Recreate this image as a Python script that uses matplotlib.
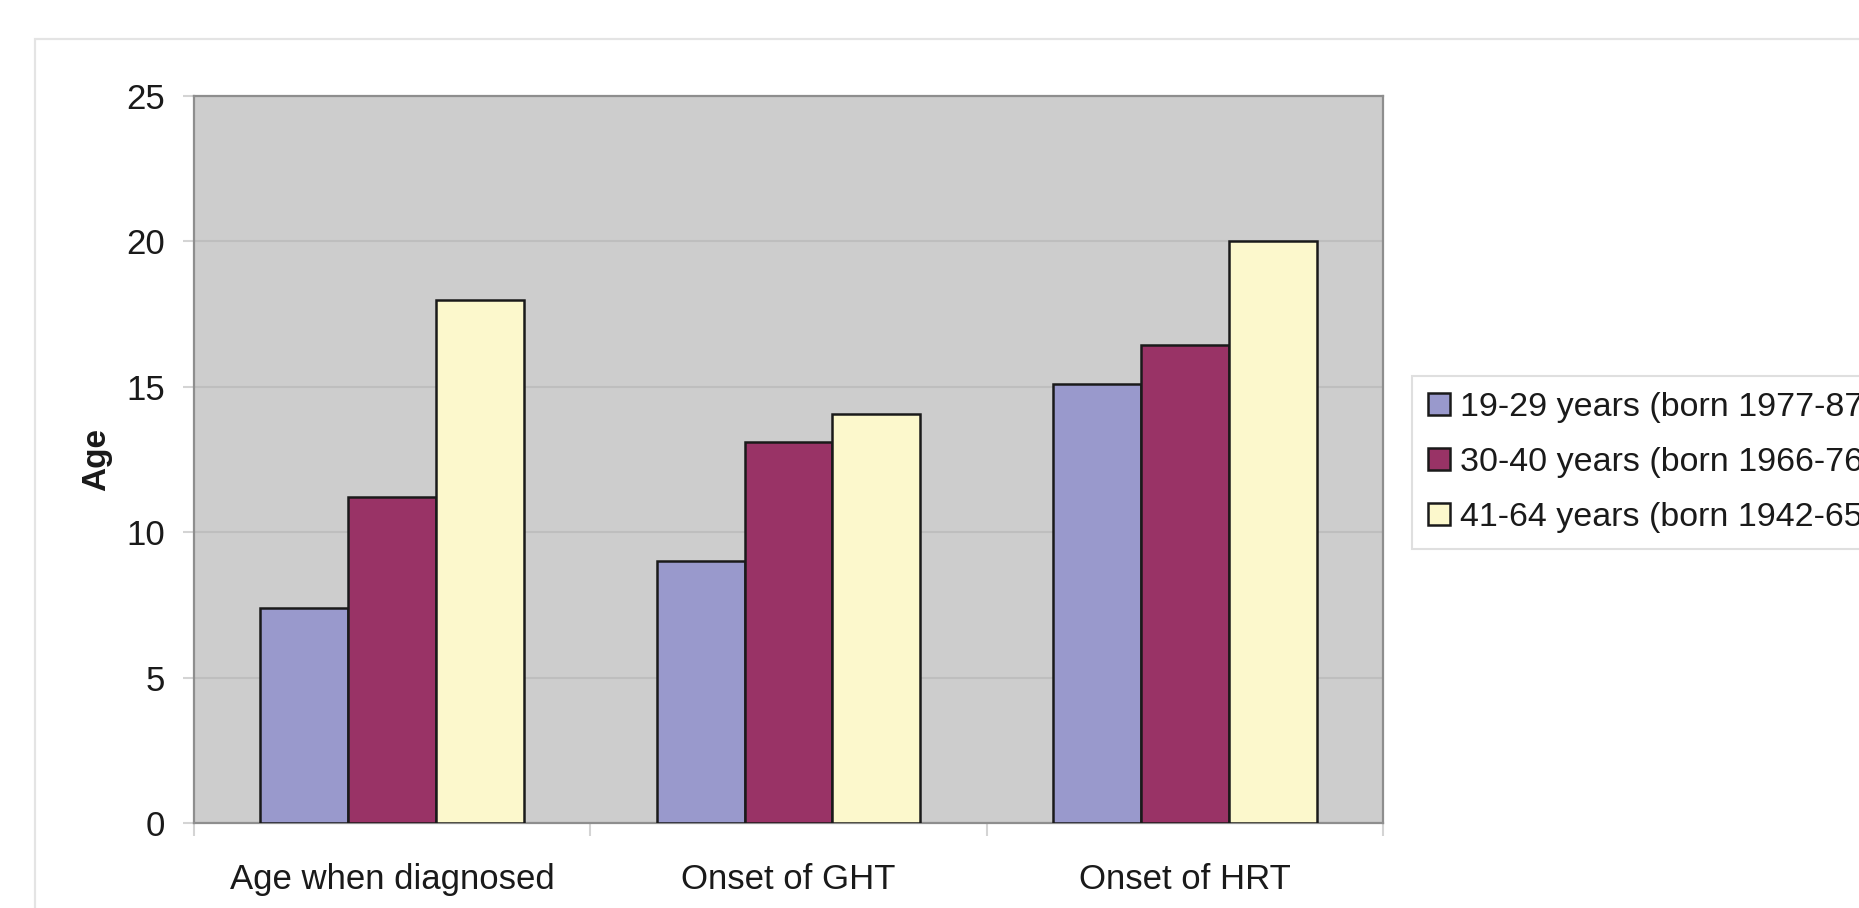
import matplotlib
matplotlib.use("Agg")
import matplotlib.pyplot as plt
import numpy as np
from matplotlib.patches import Rectangle

categories = ["Age when diagnosed", "Onset of GHT", "Onset of HRT"]
series_labels = ["19-29 years (born 1977-87)", "30-40 years (born 1966-76)", "41-64 years (born 1942-65)"]
young = [7.4, 9.0, 15.1]
middle = [11.2, 13.1, 16.45]
older = [18.0, 14.05, 20.0]
yticks = [0, 5, 10, 15, 20, 25]

colors = ["#9999CC", "#993366", "#FCF8CC"]

plt.rcParams['font.family'] = ['Liberation Sans', 'DejaVu Sans']

W, H = 1859, 908
fig = plt.figure(figsize=(W / 100, H / 100), dpi=100)
fig.patch.set_facecolor("white")

# outer chart-area frame (cut off at right and bottom)
fig.patches.append(Rectangle((35 / W, -0.1), 2.0, 1 - 39 / H + 0.1, transform=fig.transFigure,
                             fill=False, edgecolor="#e4e4e4", linewidth=1.6, zorder=0))

L, R, T, B = 194, 1383, 96, 823
ax = fig.add_axes([L / W, 1 - B / H, (R - L) / W, (B - T) / H])
ax.set_facecolor("#CDCDCD")

x = np.arange(len(categories))
bw = 0.222
for i, (vals, c, lab) in enumerate(zip([young, middle, older], colors, series_labels)):
    ax.bar(x + (i - 1) * bw, vals, width=bw, color=c, edgecolor="#1a1a1a",
           linewidth=1.8, label=lab, zorder=3)

ax.set_xlim(-0.5, 2.5)
ax.set_ylim(0, 25)
ax.set_yticks(yticks)
ax.set_yticklabels([str(v) for v in yticks], fontsize=25, color="#1a1a1a")
ax.yaxis.grid(True, color="#BEBEBE", linewidth=1.5, zorder=1)
ax.set_axisbelow(True)

ax.set_xticks([-0.5, 0.5, 1.5, 2.5])
ax.set_xticklabels([])
ax.set_xticks(x, minor=True)
ax.set_xticklabels(categories, minor=True, fontsize=25, color="#1a1a1a")
ax.tick_params(axis="x", which="major", length=9, color="#d4d4d4", width=1.5)
ax.tick_params(axis="x", which="minor", length=0, pad=29)
ax.tick_params(axis="y", length=8, color="#d4d4d4", width=1.5, pad=13)

for s in ax.spines.values():
    s.set_color("#8e8e8e")
    s.set_linewidth(1.6)

ax.set_ylabel("Age", fontsize=24, fontweight="bold", color="#1a1a1a", labelpad=10)

leg = fig.legend(loc="upper left", bbox_to_anchor=(1412 / W, 1 - 376 / H),
                 fontsize=24.5, frameon=True, fancybox=False, edgecolor="#d8d8d8",
                 handlelength=0.63, handleheight=0.63, handletextpad=0.3,
                 borderpad=0.48, labelspacing=0.7, borderaxespad=0)
leg.get_frame().set_linewidth(1.5)
for t in leg.get_texts():
    t.set_color("#1a1a1a")

fig.savefig("out.png", dpi=100, facecolor="white")
